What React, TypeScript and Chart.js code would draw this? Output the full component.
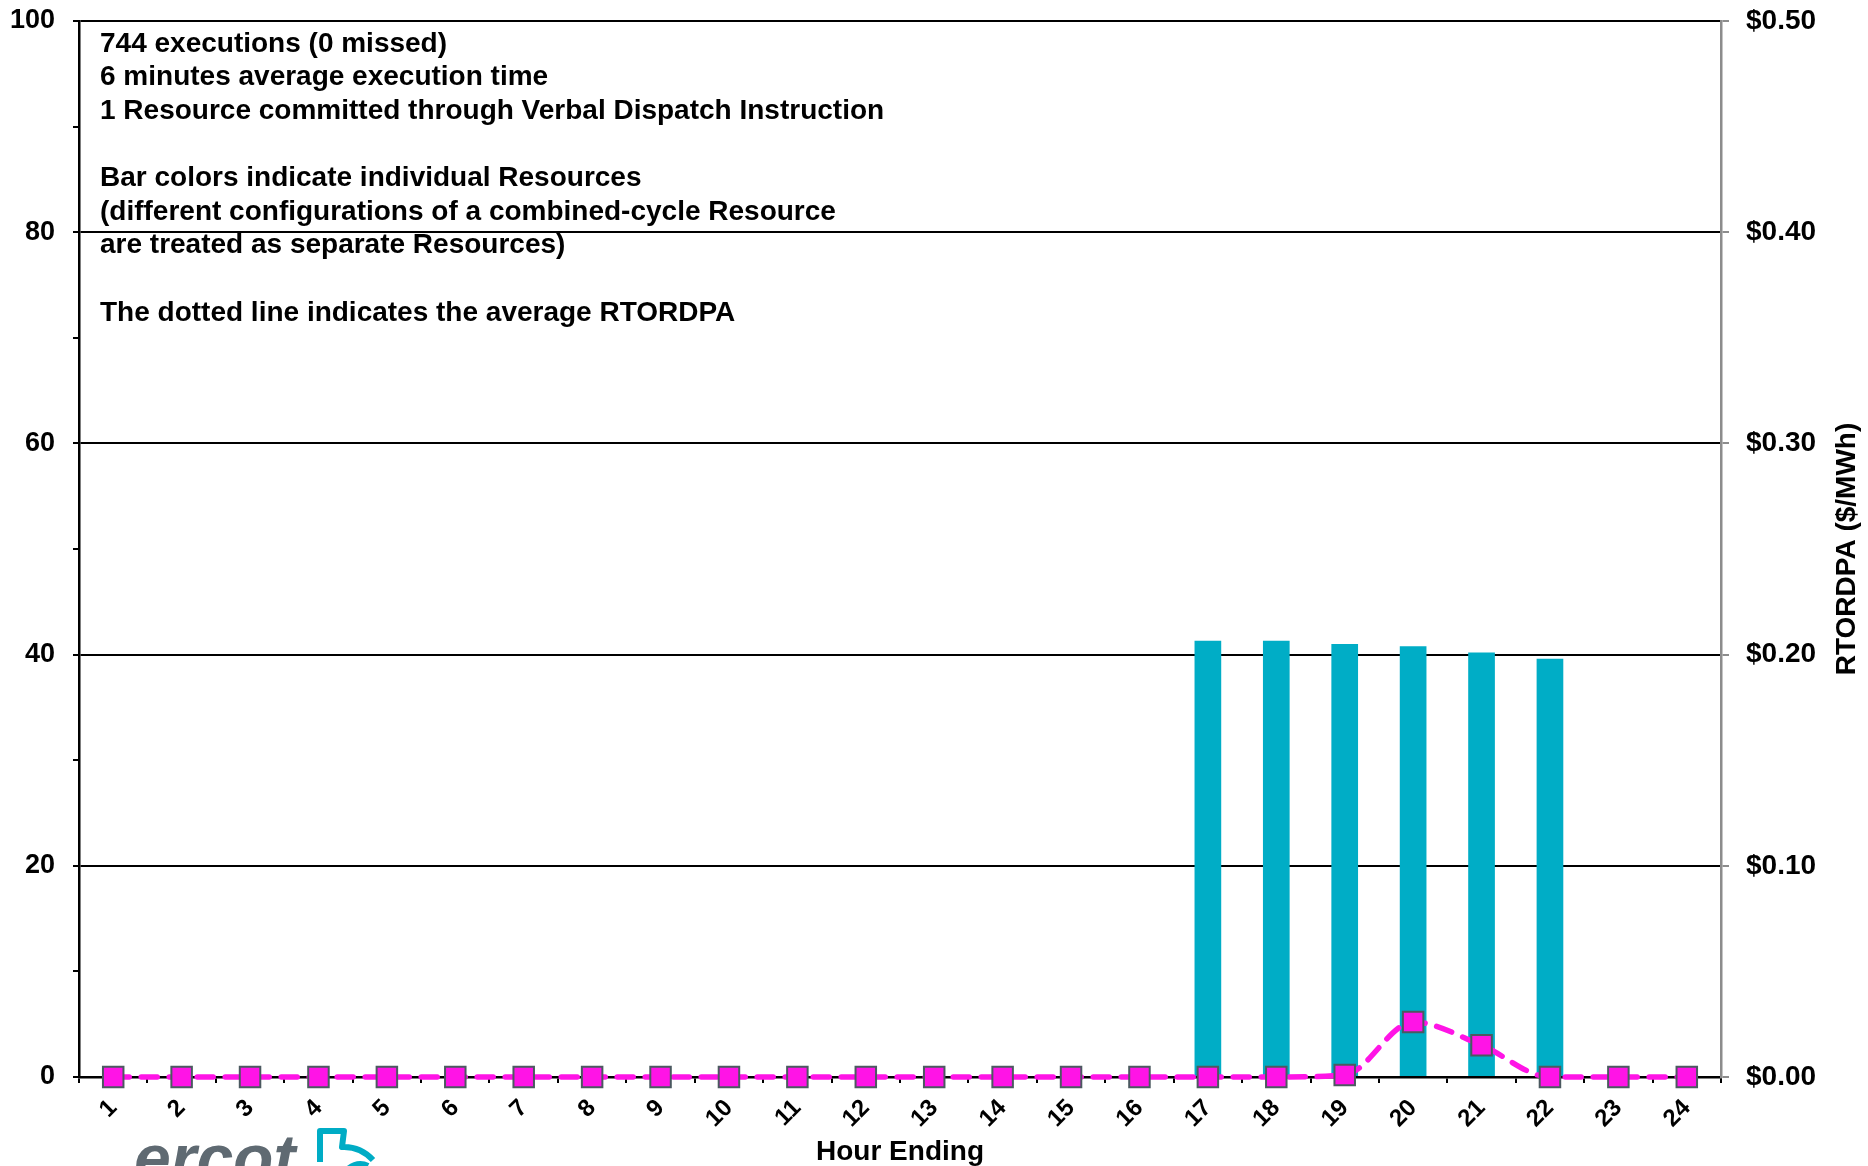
import React, { useEffect, useRef } from 'react';
import { Chart, registerables } from 'chart.js';

Chart.register(...registerables);

const FONT = '"Liberation Sans", Arial, Helvetica, sans-serif';

const hours = ['1', '2', '3', '4', '5', '6', '7', '8', '9', '10', '11', '12', '13', '14', '15', '16', '17', '18', '19', '20', '21', '22', '23', '24'];

// Resource (bar) values, left axis
const resourceValues = [null, null, null, null, null, null, null, null, null, null, null, null, null, null, null, null, 41.3, 41.3, 41.0, 40.8, 40.2, 39.6, null, null];

// Average RTORDPA ($/MWh), right axis
const rtordpa = [0, 0, 0, 0, 0, 0, 0, 0, 0, 0, 0, 0, 0, 0, 0, 0, 0, 0, 0.001, 0.026, 0.015, 0, 0, 0];

const noteLines = [
  '744 executions (0 missed)',
  '6 minutes average execution time',
  '1 Resource committed through Verbal Dispatch Instruction',
  '',
  'Bar colors indicate individual Resources',
  '(different configurations of a combined-cycle Resource',
  'are treated as separate Resources)',
  '',
  'The dotted line indicates the average RTORDPA',
];

const xTitle = 'Hour Ending';
const rightTitle = 'RTORDPA ($/MWh)';

const BAR_COLOR = '#00adc6';
const LINE_COLOR = '#ff14e6';

const overlayPlugin = {
  id: 'overlay',
  afterDraw(chart: any) {
    const ctx = chart.ctx as CanvasRenderingContext2D;
    const area = chart.chartArea;
    ctx.save();
    ctx.fillStyle = '#000';
    ctx.font = `bold 28px ${FONT}`;
    ctx.textBaseline = 'middle';
    ctx.textAlign = 'left';
    noteLines.forEach((line, i) => {
      if (line) ctx.fillText(line, 100, 44 + i * 33.6);
    });

    ctx.textAlign = 'center';
    ctx.fillText(xTitle, (area.left + area.right) / 2, 1152);

    ctx.save();
    ctx.translate(1847, (area.top + area.bottom) / 2);
    ctx.rotate(-Math.PI / 2);
    ctx.fillText(rightTitle, 0, 0);
    ctx.restore();

    // ercot logo (partially cut off at bottom)
    ctx.fillStyle = '#5f6a72';
    ctx.font = `italic bold 66px ${FONT}`;
    ctx.textAlign = 'left';
    ctx.textBaseline = 'alphabetic';
    ctx.fillText('ercot', 134, 1181);
    ctx.strokeStyle = '#00acc5';
    ctx.lineWidth = 6;
    ctx.lineJoin = 'round';
    ctx.beginPath();
    ctx.moveTo(320, 1162);
    ctx.lineTo(320, 1131);
    ctx.lineTo(344, 1131);
    ctx.lineTo(342, 1147);
    ctx.quadraticCurveTo(360, 1146, 373, 1160);
    ctx.stroke();
    ctx.beginPath();
    ctx.moveTo(348, 1169);
    ctx.quadraticCurveTo(358, 1161, 368, 1166);
    ctx.stroke();
    ctx.restore();
  },
};

const fixVertical = (width: number) => (s: any) => {
  s.width = width;
  s.paddingTop = 0;
  s.paddingBottom = 0;
};

export default function App() {
  const canvasRef = useRef<HTMLCanvasElement | null>(null);

  useEffect(() => {
    if (!canvasRef.current) return;
    const chart = new Chart(canvasRef.current, {
      type: 'bar',
      data: {
        labels: hours,
        datasets: [
          {
            type: 'line',
            label: 'RTORDPA',
            data: rtordpa,
            yAxisID: 'y1',
            borderColor: LINE_COLOR,
            borderWidth: 5.5,
            borderDash: [16, 12],
            borderCapStyle: 'round',
            pointStyle: 'rect',
            pointRadius: 14.5,
            pointHoverRadius: 14.5,
            pointBackgroundColor: LINE_COLOR,
            pointBorderColor: '#4b5960',
            pointBorderWidth: 2,
            cubicInterpolationMode: 'monotone',
            clip: false,
            order: 0,
          } as any,
          {
            type: 'bar',
            label: 'Resource',
            data: resourceValues,
            yAxisID: 'y',
            backgroundColor: BAR_COLOR,
            barPercentage: 0.39,
            categoryPercentage: 1,
            order: 1,
          } as any,
        ],
      },
      options: {
        animation: false,
        responsive: false,
        devicePixelRatio: 1,
        layout: { padding: { top: 21, left: 0, right: 0, bottom: 0 } },
        plugins: {
          legend: { display: false },
          tooltip: { enabled: false },
        },
        scales: {
          x: {
            type: 'category',
            offset: true,
            grid: {
              offset: true,
              drawOnChartArea: false,
              color: '#000',
              lineWidth: 2,
              tickLength: 6,
            },
            border: { color: '#000', width: 2.5 },
            ticks: {
              autoSkip: false,
              maxRotation: 45,
              minRotation: 45,
              color: '#000',
              padding: 11,
              font: { family: FONT, size: 24, weight: 'bold' },
            },
            afterFit: (s: any) => {
              s.height = 89;
              s.paddingLeft = 0;
              s.paddingRight = 0;
            },
          },
          y: {
            position: 'left',
            min: 0,
            max: 100,
            ticks: {
              stepSize: 10,
              autoSkip: false,
              color: '#000',
              padding: 18,
              font: { family: FONT, size: 27, weight: 'bold' },
              callback: (v: any) => (Number(v) % 20 === 0 ? String(v) : ''),
            },
            grid: {
              color: (c: any) => (c.tick && c.tick.value % 20 === 0 ? '#000' : 'rgba(0,0,0,0)'),
              tickColor: '#000',
              lineWidth: 2,
              tickLength: 6,
            },
            border: { color: '#000', width: 2.5 },
            afterFit: fixVertical(79),
          },
          y1: {
            position: 'right',
            min: 0,
            max: 0.5,
            ticks: {
              stepSize: 0.1,
              color: '#000',
              padding: 17,
              font: { family: FONT, size: 28, weight: 'bold' },
              callback: (v: any) => '$' + Number(v).toFixed(2),
            },
            grid: {
              drawOnChartArea: false,
              color: '#8c8c8c',
              lineWidth: 2,
              tickLength: 8,
            },
            border: { color: '#8c8c8c', width: 2.5 },
            afterFit: fixVertical(147),
          },
        },
      } as any,
      plugins: [overlayPlugin],
    });
    return () => chart.destroy();
  }, []);

  return (
    <div style={{ position: 'fixed', left: 0, top: 0, width: 1868, height: 1166, background: '#fff' }}>
      <canvas ref={canvasRef} width={1868} height={1166} style={{ display: 'block' }} />
    </div>
  );
}
